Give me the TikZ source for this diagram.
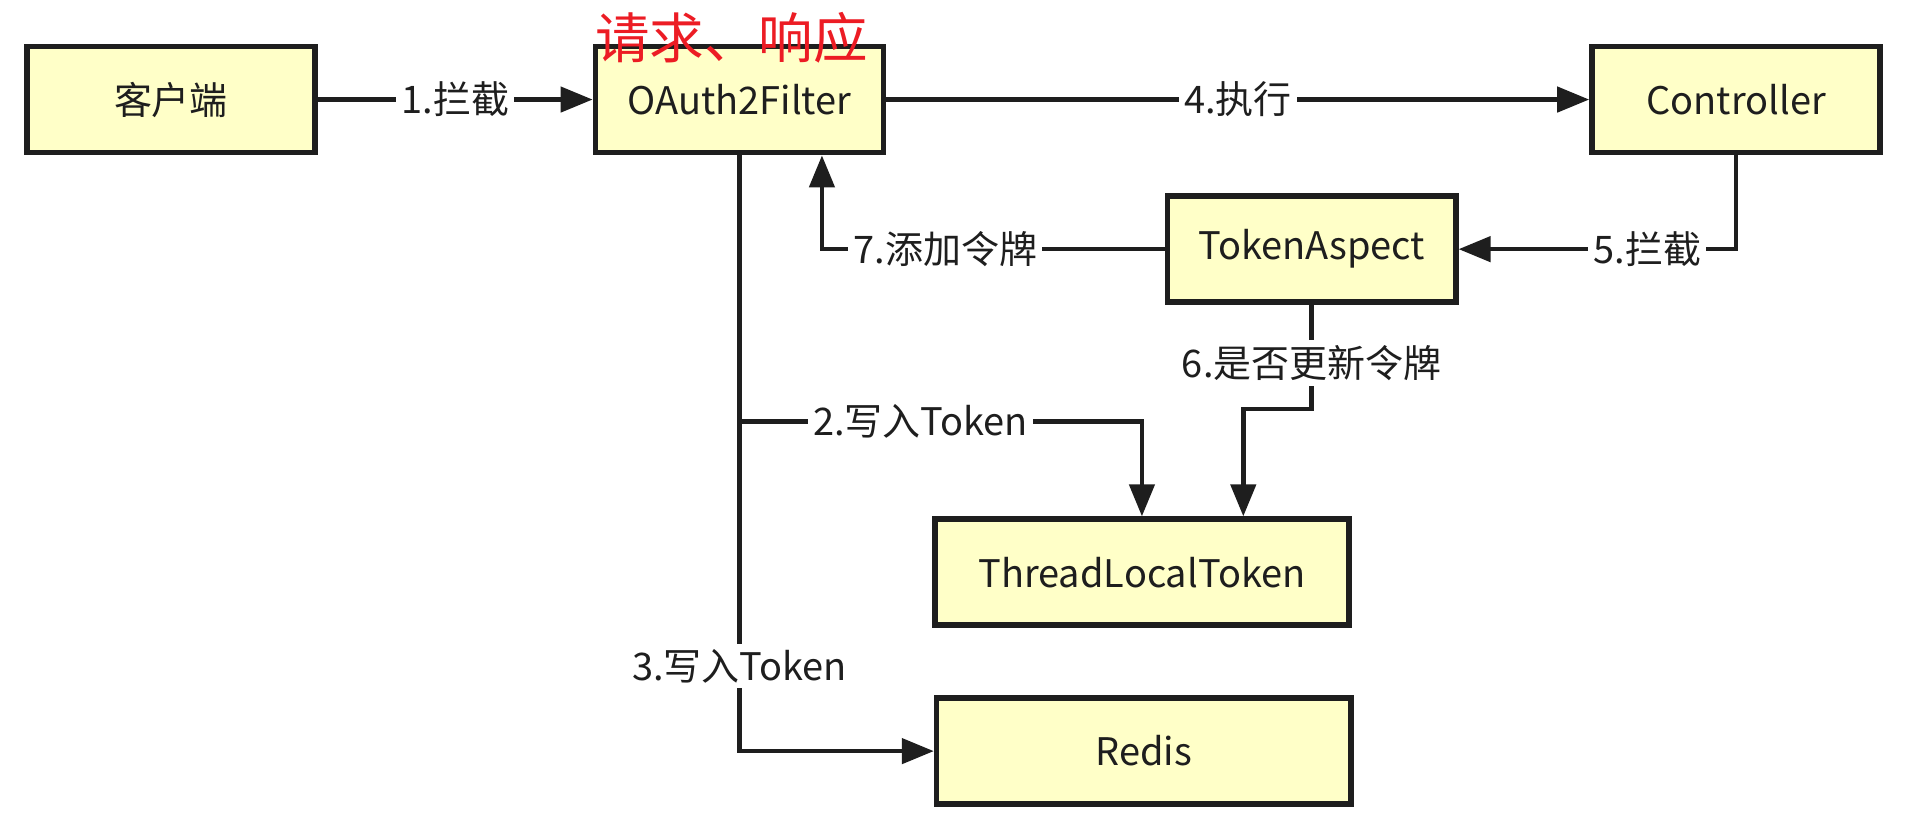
\documentclass[tikz,border=0pt]{standalone}
\usepackage{fontspec}
\setmainfont{Noto Sans CJK SC}
\usepackage{tikz}
\usepackage{xcolor}
\usetikzlibrary{positioning, arrows.meta}
\definecolor{boxfill}{RGB}{255, 255, 200}
\definecolor{inkgray}{RGB}{30, 30, 30}
\definecolor{notered}{RGB}{236, 28, 36}
\tikzset{
    flowbox/.style={rectangle, draw=inkgray, line width=1.6pt, fill=boxfill, minimum width=2.88cm, minimum height=1.06cm, font=\fontsize{10.8}{12}\selectfont, text=inkgray},
    widebox/.style={flowbox, minimum width=4.14cm},
    flowline/.style={draw=inkgray, line width=1.3pt},
    flowarrow/.style={flowline, -{Triangle[length=3.2mm, width=2.5mm]}},
    steplabel/.style={fill=white, inner sep=1.5pt, font=\fontsize{10.8}{12}\selectfont, text=inkgray},
    notetext/.style={font=\fontsize{15.5}{18}\selectfont, text=notered}
}

\begin{document}
\begin{tikzpicture}[x=0.01221cm, y=-0.01221cm]
    \useasboundingbox (0,0) rectangle (1568,677);
    % boxes
    \node[flowbox] (client) at (140,81.5) {客户端};
    \node[flowbox] (filter) at (605.5,81.5) {OAuth2Filter};
    \node[flowbox] (controller) at (1421.5,81.5) {Controller};
    \node[flowbox] (aspect) at (1074,204) {TokenAspect};
    \node[widebox] (tlt) at (935,468.5) {ThreadLocalToken};
    \node[widebox] (redis) at (936.5,615) {Redis};
    \node[notetext] (note) at (599,31) {请求、响应};
    % bends
    \coordinate (branch) at (605.5,345);
    \coordinate (back) at (673,204);
    \coordinate (jog) at (1074,335);
    \coordinate (jogend) at (1018,335);
    % connectors
    \draw[flowarrow] (client) -- node[steplabel] {1.拦截} (filter);
    \draw[flowarrow] (filter) -- node[steplabel, pos=0.5] {4.执行} (controller);
    \draw[flowarrow] (filter.south) -- node[steplabel, pos=0.857] {3.写入Token} (filter.south |- redis.west) -- (redis.west);
    \draw[flowarrow] (branch) -- node[steplabel, pos=0.45] {2.写入Token} (branch -| tlt.north) -- (tlt.north);
    \draw[flowarrow] (controller.south) -- (controller.south |- aspect.east) -- node[steplabel, pos=0.32] {5.拦截} (aspect.east);
    \draw[flowarrow] (aspect.west) -- node[steplabel, pos=0.64] {7.添加令牌} (back) -- (back |- filter.south);
    \draw[flowarrow] (aspect.south) -- node[steplabel, pos=0.56] {6.是否更新令牌} (jog) -- (jogend) -- (jogend |- tlt.north);
\end{tikzpicture}
\end{document}
